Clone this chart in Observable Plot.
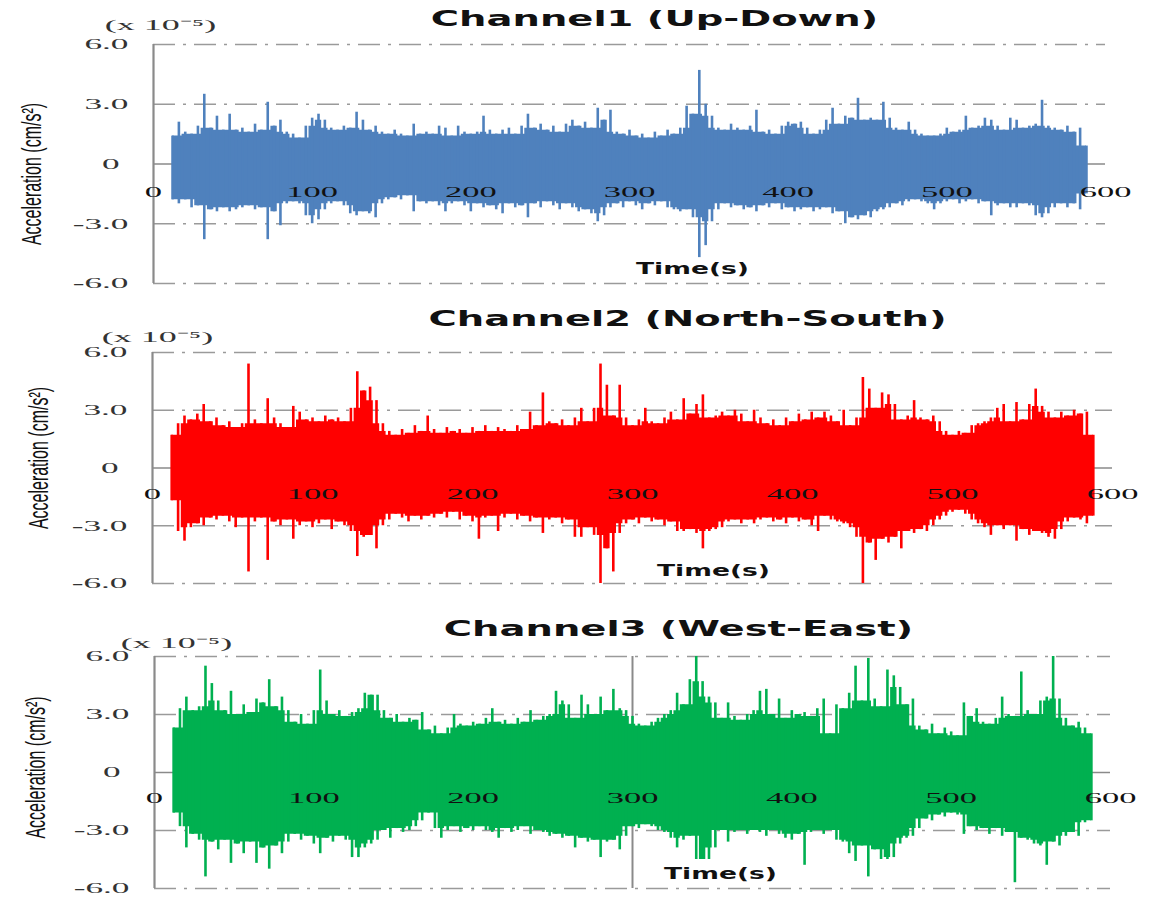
<!DOCTYPE html>
<html><head><meta charset="utf-8">
<script src="https://cdn.jsdelivr.net/npm/d3@7"></script>
<script src="https://cdn.jsdelivr.net/npm/@observablehq/plot@0.6"></script>
<style>body{margin:0;background:#fff;} svg{overflow:visible;display:block}</style>
</head><body><div id="chart"></div>
<script>
// sample times (s)
const times = [12,16,20,24,28,32,36,40,44,48, 52,56,60,64,68,72,76,80,84,88, 92,96,100,104,108,112,116,120,124,128,
 132,136,140,144,148,152,156,160,164,168, 172,176,180,184,188,192,196,200,204,208, 212,216,220,224,228,232,236,240,244,248,
 252,256,260,264,268,272,276,280,284,288, 292,296,300,304,308,312,316,320,324,328, 332,336,340,344,348,352,356,360,364,368,
 372,376,380,384,388,392,396,400,404,408, 412,416,420,424,428,432,436,440,444,448, 452,456,460,464,468,472,476,480,484,488,
 492,496,500,504,508,512,516,520,524,528, 532,536,540,544,548,552,556,560,564,568, 572,576,580,584,588];

// Channel 1 (Up-Down) peak envelope, x 1e-5 cm/s^2
const ch1Hi = [1.4,2.1,1.6,1.5,1.9,3.5,1.8,2.4,1.7,2.5, 1.7,1.8,1.6,2.0,1.7,3.1,1.9,2.2,1.6,1.5, 1.3,1.9,2.3,2.5,2.2,1.8,1.7,1.9,1.8,2.6,
 2.2,1.7,1.9,1.6,1.5,1.7,1.5,1.4,2.0,1.5, 1.6,1.5,1.9,1.8,1.4,1.9,1.6,1.5,1.6,2.4, 1.7,1.5,1.7,1.8,1.5,1.9,2.5,1.8,2.0,1.7,
 1.9,1.6,2.0,2.2,1.9,2.1,1.8,2.8,2.2,2.7, 1.6,1.5,1.7,1.4,1.5,1.3,1.6,1.4,1.7,1.5, 1.8,2.9,2.5,4.7,3.0,2.4,1.8,1.7,2.0,1.8,
 1.7,1.9,2.7,1.6,1.7,1.5,1.9,2.1,2.0,2.1, 1.8,1.5,1.7,2.2,2.8,2.0,2.4,2.3,3.3,2.2, 2.3,2.2,3.1,2.3,1.8,1.7,2.1,1.7,1.5,1.4,
 1.4,1.5,1.8,1.6,1.7,2.4,1.8,1.9,2.3,2.2, 1.9,1.7,2.3,2.2,1.8,1.9,2.0,3.2,1.9,1.8, 1.7,1.9,1.6,1.8,0.9];
const ch1Lo = [-1.8,-2.0,-1.8,-2.2,-2.1,-3.8,-2.3,-2.4,-2.2,-2.4, -2.3,-2.2,-2.1,-2.3,-2.2,-3.8,-2.4,-3.1,-2.0,-1.9, -2.0,-2.6,-3.0,-2.8,-2.3,-2.0,-1.9,-2.1,-2.5,-2.6,
 -2.4,-2.5,-2.7,-2.0,-1.8,-1.7,-1.8,-1.6,-2.4,-1.9, -2.0,-1.9,-2.1,-2.4,-2.0,-1.9,-2.1,-2.4,-2.0,-2.2, -2.1,-2.3,-2.5,-2.0,-2.2,-2.1,-2.7,-2.0,-2.2,-1.9,
 -2.1,-2.3,-2.0,-2.2,-2.4,-2.3,-2.5,-2.9,-2.6,-2.2, -2.0,-2.2,-1.9,-2.1,-2.3,-2.0,-2.1,-1.9,-2.2,-2.3, -2.4,-2.3,-2.7,-4.7,-4.1,-2.9,-2.3,-2.0,-2.2,-2.1,
 -2.3,-2.2,-2.4,-2.1,-2.2,-2.0,-2.3,-2.2,-2.4,-2.3, -2.2,-2.4,-2.3,-2.2,-2.5,-2.4,-3.0,-2.7,-2.8,-2.6, -2.7,-2.4,-2.3,-2.2,-2.0,-2.1,-1.9,-1.8,-1.9,-2.0,
 -2.3,-2.0,-1.9,-1.8,-2.0,-1.9,-1.8,-2.0,-1.9,-2.6, -2.1,-2.0,-2.2,-2.2,-2.0,-2.1,-2.6,-2.7,-2.5,-2.2, -2.0,-2.2,-2.0,-2.3,-1.5];

// Channel 2 (North-South)
const ch2Hi = [1.7,2.3,2.7,2.5,2.8,3.3,2.4,2.6,2.2,2.4, 2.1,2.3,5.4,2.5,2.3,3.6,2.6,2.3,2.1,3.2, 2.9,2.5,2.6,2.4,2.7,2.5,2.6,2.4,3.1,5.0,
 4.0,4.2,3.5,2.3,1.9,1.7,2.0,1.8,2.2,1.9, 2.7,2.0,1.8,2.1,1.9,2.0,1.8,2.1,1.9,2.2, 1.9,2.1,2.0,1.9,2.2,2.0,2.9,2.2,3.9,2.4,
 2.3,2.5,2.2,2.6,3.1,2.4,3.1,5.4,4.3,2.7, 4.3,2.6,2.2,2.5,3.1,2.4,2.3,2.6,2.9,2.5, 3.6,2.8,3.3,3.8,2.6,2.7,2.9,2.7,3.0,2.8,
 2.4,3.0,2.6,2.3,2.5,2.2,2.6,2.4,2.8,2.5, 2.9,2.6,2.9,2.7,2.4,3.0,2.2,2.6,4.7,4.1, 3.1,3.9,3.8,3.3,2.5,2.7,3.5,2.6,2.5,2.7,
 2.4,1.9,1.7,1.9,1.8,2.2,2.3,2.4,2.6,3.1, 3.3,2.4,3.4,2.5,3.3,4.1,3.2,2.9,2.6,2.9, 2.7,3.0,2.8,2.9,1.7];
const ch2Lo = [-1.7,-3.3,-3.8,-3.1,-2.9,-3.0,-2.6,-2.7,-2.5,-2.8, -3.1,-2.6,-5.4,-2.8,-2.6,-4.8,-2.8,-3.0,-2.7,-3.7, -3.0,-2.8,-3.1,-2.9,-2.7,-3.2,-2.8,-3.0,-3.3,-4.6,
 -3.6,-3.5,-4.2,-3.0,-2.7,-2.4,-2.6,-2.8,-2.5,-2.7, -2.5,-2.6,-2.4,-2.6,-2.3,-2.7,-2.5,-2.8,-3.7,-2.6, -2.5,-3.3,-2.6,-2.4,-2.7,-2.5,-2.8,-2.6,-3.4,-2.7,
 -2.6,-2.9,-2.7,-3.6,-3.6,-3.1,-3.5,-6.0,-4.2,-5.4, -3.4,-2.9,-2.7,-2.9,-2.6,-2.8,-2.7,-3.0,-2.8,-3.3, -3.3,-3.2,-3.4,-4.2,-3.3,-3.2,-3.1,-2.8,-2.7,-2.9,
 -2.7,-2.9,-2.7,-2.6,-2.8,-2.7,-2.9,-2.6,-2.8,-2.7, -3.0,-3.3,-2.5,-2.7,-2.8,-2.9,-3.1,-3.6,-6.0,-3.9, -4.8,-3.7,-3.9,-3.6,-4.2,-3.3,-3.4,-3.2,-3.3,-3.0,
 -2.7,-2.5,-2.3,-2.2,-2.4,-2.7,-2.9,-3.1,-3.5,-3.0, -3.2,-3.0,-3.8,-3.2,-3.5,-3.3,-3.4,-3.6,-3.7,-3.2, -2.8,-2.6,-2.7,-2.9,-2.5];

// Channel 3 (West-East)
const ch3Hi = [2.3,3.3,3.9,3.2,3.4,5.5,4.6,3.7,3.2,4.2, 3.0,3.5,3.1,3.8,3.6,4.8,3.4,3.9,3.2,2.6, 3.0,2.5,3.2,5.3,3.7,3.0,3.2,2.9,3.1,3.3,
 4.1,4.0,4.0,3.2,2.8,3.0,2.6,2.8,2.7,3.1, 2.2,2.4,2.0,2.3,3.0,2.5,2.4,2.6,2.5,2.8, 3.3,2.6,2.7,2.5,2.8,2.6,3.2,2.7,2.9,3.0,
 4.2,3.7,3.5,2.8,4.0,3.5,3.0,3.9,3.2,4.3, 3.3,3.2,2.9,2.5,2.4,2.6,2.8,3.0,3.2,4.1, 3.5,4.8,6.0,4.7,3.9,3.6,2.8,3.6,2.9,2.7,
 3.0,3.2,4.2,4.3,3.0,3.8,2.8,3.2,3.0,3.1, 2.9,3.3,3.8,2.0,3.5,3.3,4.1,5.5,3.7,5.9, 3.8,3.4,5.3,5.0,4.4,3.5,3.8,2.4,2.2,2.5,
 2.0,2.3,2.1,1.9,3.6,2.9,3.3,2.6,2.5,2.8, 3.9,3.0,2.9,5.2,3.2,3.0,3.7,3.9,6.0,3.8, 2.8,2.4,2.6,2.3,2.0];
const ch3Lo = [-2.1,-2.8,-3.9,-3.2,-3.5,-5.4,-3.6,-4.0,-3.5,-4.7, -3.7,-4.2,-3.6,-4.7,-3.9,-5.0,-3.8,-4.2,-3.6,-3.2, -3.5,-3.3,-3.7,-4.2,-3.4,-3.6,-3.3,-3.5,-4.4,-4.4,
 -3.9,-3.7,-3.5,-3.0,-3.4,-2.9,-3.1,-3.0,-2.8,-2.5, -2.1,-2.9,-3.4,-3.0,-2.8,-3.1,-2.9,-3.0,-2.8,-3.0, -3.1,-3.4,-2.9,-3.1,-3.0,-2.8,-3.2,-3.0,-3.1,-3.3,
 -3.2,-3.4,-3.3,-3.9,-3.4,-3.6,-3.5,-4.4,-3.6,-3.5, -4.0,-3.3,-2.8,-2.9,-2.7,-2.8,-3.0,-3.1,-3.4,-3.9, -3.5,-3.3,-4.5,-4.5,-4.5,-3.9,-3.0,-3.6,-3.1,-3.0,
 -3.2,-3.0,-3.1,-3.3,-3.0,-3.2,-3.4,-3.5,-3.2,-4.8, -3.1,-3.0,-3.2,-3.0,-3.5,-3.6,-4.2,-4.6,-3.8,-5.4, -4.0,-4.5,-4.5,-4.4,-3.7,-3.4,-3.3,-2.9,-2.4,-2.5,
 -2.2,-2.3,-2.1,-2.2,-3.2,-2.8,-3.0,-2.9,-3.2,-2.9, -3.3,-3.1,-5.7,-3.4,-3.5,-3.7,-3.8,-4.8,-3.6,-3.8, -3.3,-3.1,-3.3,-2.6,-2.5];

const titles = ["Channel1 (Up-Down)", "Channel2 (North-South)", "Channel3 (West-East)"];
const colors = ["#4F81BD", "#FF0000", "#00B050"];
const yTicks = [-6, -3, 0, 3, 6];
const xTicks = [0, 100, 200, 300, 400, 500, 600];
const unitLabel = "(x 10\u207B\u2075)";
const yLabel = "Acceleration (cm/s\u00B2)";
const xLabel = "Time(s)";
const extraLines = [[], [], [300]];

const series = [[ch1Hi, ch1Lo], [ch2Hi, ch2Lo], [ch3Hi, ch3Lo]];

// layout per panel (pixels)
const layout = [
  {height: 300, mt: 44, mb: 17, ml: 153, mr: 46, tDx: 25, tDy: -26, uDx: 7, uDy: -19, xDx: 63, xDy: -15, tickDy: 28, lDx: -121, lDy: 10},
  {height: 305, mt: 52, mb: 22, ml: 152, mr: 39, tDx: 55, tDy: -34, uDx: 5, uDy: -15, xDx: 81, xDy: -13, tickDy: 26, lDx: -113, lDy: -10},
  {height: 294, mt: 51, mb: 11, ml: 154, mr: 41, tDx: 46, tDy: -28, uDx: 22, uDy: -13, xDx: 88, xDy: -15, tickDy: 26, lDx: -118, lDy: -5}
];

const serif = "Liberation Serif";
const sans = "DejaVu Sans";
const container = document.getElementById("chart");

function stretch(svg, sel, f) {
  svg.querySelectorAll(sel).forEach(t => {
    const L = t.getComputedTextLength();
    t.setAttribute("textLength", (L * f).toFixed(1));
    t.setAttribute("lengthAdjust", "spacingAndGlyphs");
  });
}

series.forEach(([hi, lo], k) => {
  const L = layout[k];
  const data = times.map((t, i) => ({t, hi: hi[i], lo: lo[i]}));
  // dense core of the trace: the smallest neighbouring peak on each side
  const core = data.map((d, i) => ({
    t: d.t,
    hi: d3.min(data.slice(Math.max(0, i - 1), i + 2), e => e.hi),
    lo: d3.max(data.slice(Math.max(0, i - 1), i + 2), e => e.lo)
  }));
  const svg = Plot.plot({
    width: 1151, height: L.height,
    marginTop: L.mt, marginBottom: L.mb, marginLeft: L.ml, marginRight: L.mr,
    x: {domain: [0, 600], axis: null},
    y: {domain: [-6, 6]},
    style: {fontFamily: serif, background: "transparent", overflow: "visible"},
    marks: [
      Plot.ruleY(yTicks.filter(d => d !== 0), {stroke: "#9a9a9a", strokeWidth: 1.3, strokeDasharray: "22,8,3,8"}),
      Plot.ruleY([0], {stroke: "#8a8a8a", strokeWidth: 1.5}),
      Plot.ruleX([0], {stroke: "#8a8a8a", strokeWidth: 2.2}),
      Plot.ruleX(extraLines[k], {stroke: "#8a8a8a", strokeWidth: 2}),
      Plot.area(core, {x1: "t", y1: "lo", y2: "hi", fill: colors[k], curve: "step"}),
      Plot.ruleX(data, {x: "t", y1: "lo", y2: "hi", stroke: colors[k], strokeWidth: 2.6}),
      Plot.text(xTicks, {x: d => d, y: 0, dy: L.tickDy, text: d => String(d), fontSize: 15, fill: "#111", ariaDescription: "xtick"}),
      Plot.axisY(yTicks, {tickSize: 0, tickPadding: 25, label: null, fontSize: 15, color: "#333",
        tickFormat: d => d === 0 ? "0\u2005" : d.toFixed(1)}),
      Plot.text([titles[k]], {frameAnchor: "top", dx: L.tDx, dy: L.tDy, lineAnchor: "middle", fontFamily: sans, fontWeight: "bold", fontSize: 22, fill: "#111", ariaDescription: "title"}),
      Plot.text([unitLabel], {frameAnchor: "top-left", dx: L.uDx, dy: L.uDy, textAnchor: "middle", lineAnchor: "middle", fontSize: 15, fill: "#333", ariaDescription: "unit"}),
      Plot.text([xLabel], {frameAnchor: "bottom", dx: L.xDx, dy: L.xDy, lineAnchor: "middle", fontFamily: sans, fontWeight: "bold", fontSize: 16, fill: "#111", ariaDescription: "xlabel"}),
      Plot.text([yLabel], {frameAnchor: "left", dx: L.lDx, dy: L.lDy, rotate: -90, textAnchor: "middle", lineAnchor: "middle", fontFamily: "Liberation Sans", fontSize: 16, fill: "#111", ariaDescription: "ylabel"})
    ]
  });
  container.appendChild(svg);
  stretch(svg, 'g[aria-label="y-axis tick label"] text', 2.35);
  stretch(svg, 'g[aria-description="xtick"] text', 2.3);
  stretch(svg, 'g[aria-description="unit"] text', 2.4);
  stretch(svg, 'g[aria-description="title"] text', 1.75);
  stretch(svg, 'g[aria-description="xlabel"] text', 1.66);
  svg.querySelectorAll('g[aria-description="ylabel"] text').forEach(t => {
    t.setAttribute("transform", (t.getAttribute("transform") || "") + " scale(1,1.75)");
  });
});
</script>
</body></html>
